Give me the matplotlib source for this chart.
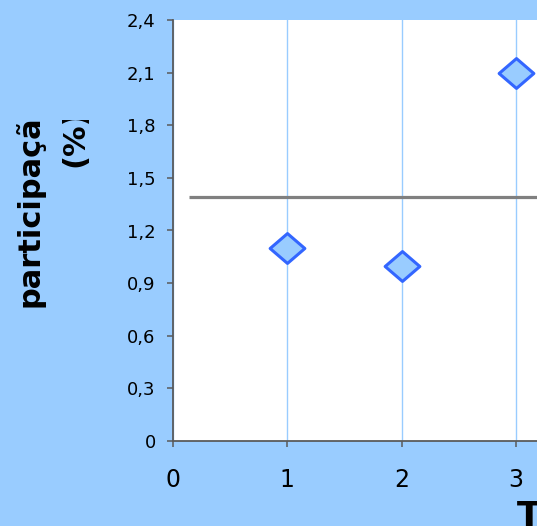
import matplotlib
matplotlib.use("Agg")
import matplotlib.pyplot as plt
from matplotlib.path import Path
from matplotlib.transforms import Bbox, TransformedBbox

# ---- data ----
x_vals = [1, 2, 3]
y_vals = [1.1, 1.0, 2.1]
avg_value = 1.39
avg_x_start = 0.14
x_ticks = [0, 1, 2, 3, 4]
x_tick_labels = ["0", "1", "2", "3", "4"]
y_ticks = [0, 0.3, 0.6, 0.9, 1.2, 1.5, 1.8, 2.1, 2.4]
y_tick_labels = ["0", "0,3", "0,6", "0,9", "1,2", "1,5", "1,8", "2,1", "2,4"]
y_label_line1 = "participação"
y_label_line2 = "(%)"
x_label = "Tempo"

W, H = 537, 526
BG = "#99CCFF"
fig = plt.figure(figsize=(W / 100, H / 100), dpi=100, facecolor=BG)

px_per_unit = (516 - 173) / 3.0
ax_left, ax_top, ax_bottom = 173, 20, 441
ax_w = 4 * px_per_unit
ax = fig.add_axes([ax_left / W, (H - ax_bottom) / H, ax_w / W, (ax_bottom - ax_top) / H])
ax.set_facecolor("white")
ax.set_xlim(0, 4)
ax.set_ylim(0, 2.4)

for s in ["top", "right"]:
    ax.spines[s].set_visible(False)
for s in ["left", "bottom"]:
    ax.spines[s].set_color("#5a5a5a")
    ax.spines[s].set_linewidth(1.3)

ax.set_xticks(x_ticks)
ax.set_xticklabels(x_tick_labels, fontfamily="DejaVu Sans", fontsize=17, color="black")
ax.set_yticks(y_ticks)
ax.set_yticklabels(y_tick_labels, fontfamily="DejaVu Sans", fontsize=13, color="black")
ax.tick_params(axis="y", direction="out", length=4.5, width=1.1, color="#5a5a5a", pad=8)
ax.tick_params(axis="x", direction="out", length=4.5, width=1.1, color="#5a5a5a", pad=15)

# vertical grid lines
ax.grid(axis="x", color="#99CCFF", linewidth=1.0)
ax.grid(axis="y", visible=False)
ax.set_axisbelow(True)

# average line
ax.plot([avg_x_start, 4], [avg_value, avg_value], color="#808080", linewidth=2.3, zorder=2,
        solid_capstyle="butt")

# diamond markers (slightly wider than tall)
diamond = Path([(-1, 0), (0, 0.86), (1, 0), (0, -0.86), (-1, 0)],
               [Path.MOVETO, Path.LINETO, Path.LINETO, Path.LINETO, Path.CLOSEPOLY])
ax.plot(x_vals, y_vals, linestyle="none", marker=diamond, markersize=25,
        markerfacecolor="#99CCFF", markeredgecolor="#3366FF", markeredgewidth=2.2,
        zorder=4, clip_on=False)

# y axis title (two lines, clipped at top as in the reference)
clip = TransformedBbox(Bbox([[0, 0], [1, 1 - 120 / H]]), fig.transFigure)
t1 = fig.text(30 / W, 1 - 307 / H, y_label_line1, rotation=90, ha="center", va="bottom",
              fontfamily="DejaVu Sans", fontweight="bold", fontsize=22, color="black")
t2 = fig.text(75 / W, 1 - 167 / H, y_label_line2, rotation=90, ha="center", va="bottom",
              fontfamily="DejaVu Sans", fontweight="bold", fontsize=22, color="black")
for t in (t1, t2):
    t.set_clip_box(clip)
    t.set_clip_on(True)

# x axis title (cut by the right edge)
fig.text(517 / W, 1 - 500 / H, x_label, ha="left", va="top",
         fontfamily="DejaVu Sans", fontweight="bold", fontsize=26, color="black")

fig.savefig("out.png", dpi=100, facecolor=BG)
